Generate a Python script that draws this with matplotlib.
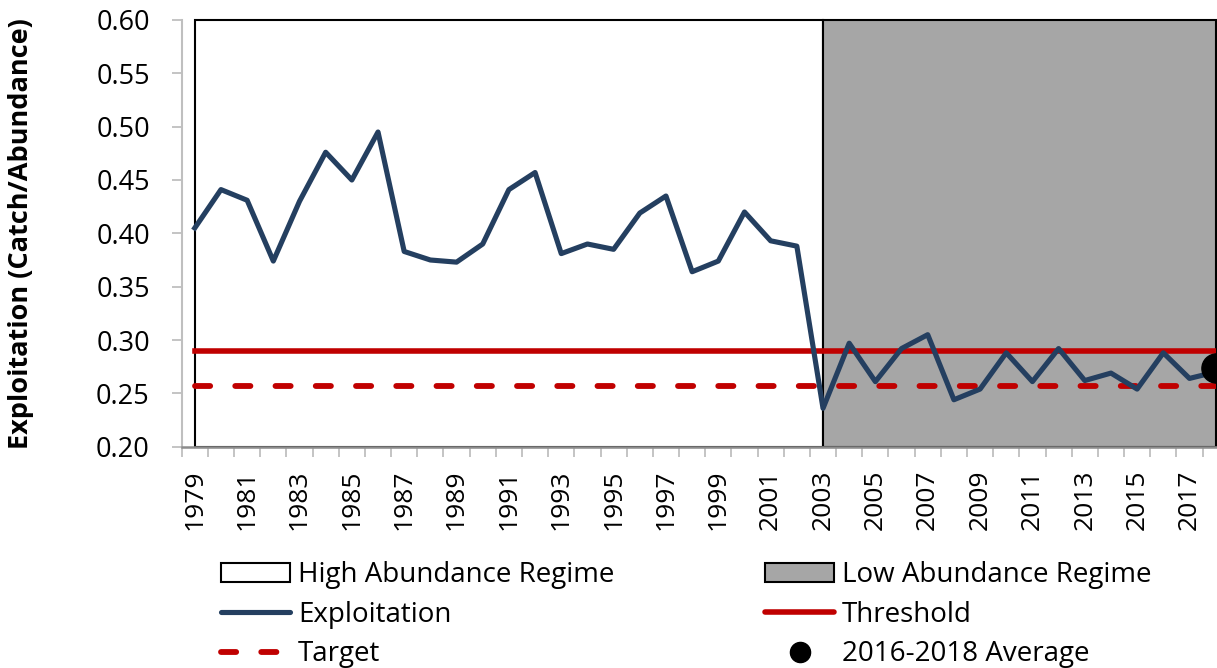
# Exploitation rate chart with abundance regimes

import numpy as np
import matplotlib.pyplot as plt
from matplotlib.patches import Patch
from matplotlib.lines import Line2D

years = list(range(1979, 2019))
exploitation = [0.405, 0.441, 0.431, 0.374, 0.430, 0.476, 0.450, 0.495, 0.383, 0.375,
                0.373, 0.390, 0.441, 0.457, 0.381, 0.390, 0.385, 0.419, 0.435, 0.364,
                0.374, 0.420, 0.393, 0.388, 0.236, 0.297, 0.261, 0.292, 0.305, 0.244,
                0.254, 0.288, 0.261, 0.292, 0.262, 0.269, 0.254, 0.288, 0.264, 0.270]
threshold = 0.290
target = 0.257
avg_year = 2018
avg_value = 0.274
high_regime = (1979, 2003)
low_regime = (2003, 2018)

blue = '#243F60'
red = '#C00000'
grey = '#A6A6A6'
axis_grey = '#BFBFBF'

plt.rcParams['font.family'] = ['Open Sans', 'DejaVu Sans']

fig = plt.figure(figsize=(12.17, 6.68), dpi=100)
ax = fig.add_axes([0.1493, 0.3313, 0.9989 - 0.1493, 0.9701 - 0.3313])

# regimes
ax.axvspan(*high_regime, facecolor='white', edgecolor='black', lw=1.5, clip_on=False, zorder=1)
ax.axvspan(*low_regime, facecolor=grey, edgecolor='black', lw=1.5, clip_on=False, zorder=1)

# reference lines
ax.plot([years[0], years[-1]], [threshold, threshold], color=red, lw=4, zorder=3)
ax.plot([years[0], years[-1]], [target, target], color=red, lw=4.2,
        dashes=(2.6, 4.3), dash_capstyle='round', zorder=3)

# series
ax.plot(years, exploitation, color=blue, lw=3.7, zorder=4)
ax.plot([avg_year], [avg_value], 'o', color='black', ms=21, zorder=5)

ax.set_xlim(1978.5, 2018)
ax.set_ylim(0.20, 0.60)

ax.set_yticks(np.arange(0.20, 0.601, 0.05))
ax.set_yticklabels([f'{v:.2f}' for v in np.arange(0.20, 0.601, 0.05)])
ax.set_xticks(years[::2])
ax.set_xticklabels([str(y) for y in years[::2]], rotation=90)
ax.set_xticks(np.arange(1978.5, 2018, 1.0), minor=True)

ax.tick_params(axis='y', length=7, width=1.3, color=axis_grey, pad=16, labelsize=19.5)
ax.tick_params(axis='x', which='major', length=0, pad=16.5, labelsize=19)
ax.tick_params(axis='x', which='minor', length=7, width=1.3, color=axis_grey)

for s in ['top', 'right']:
    ax.spines[s].set_visible(False)
ax.spines['left'].set_color(axis_grey)
ax.spines['left'].set_linewidth(1.5)
ax.spines['bottom'].set_color('#8C8C8C')
ax.spines['bottom'].set_linewidth(1.8)
ax.spines['bottom'].set_zorder(6)

ax.set_ylabel('Exploitation (Catch/Abundance)', fontsize=19.5, fontweight='bold')
ax.yaxis.set_label_coords(-0.143, 0.5)

# legend, two columns drawn as two legends
left_handles = [Patch(facecolor='white', edgecolor='black', lw=1.5),
                Line2D([], [], color=blue, lw=3.7, solid_capstyle='round'),
                Line2D([], [], color=red, lw=4.2, dashes=(2.6, 4.3), dash_capstyle='round')]
left_labels = ['High Abundance Regime', 'Exploitation', 'Target']
right_handles = [Patch(facecolor=grey, edgecolor='black', lw=1.5),
                 Line2D([], [], color=red, lw=4, solid_capstyle='round'),
                 Line2D([], [], marker='o', ls='none', color='black', ms=14.5)]
right_labels = ['Low Abundance Regime', 'Threshold', '2016-2018 Average']

legend_kw = dict(loc='upper left', frameon=False, fontsize=20, borderpad=0,
                 handlelength=2.5, handleheight=0.7, handletextpad=0.28, labelspacing=0.42,
                 borderaxespad=0)
leg1 = fig.legend(left_handles, left_labels, bbox_to_anchor=(221 / 1217, 1 - 561 / 668), **legend_kw)
leg2 = fig.legend(right_handles, right_labels, bbox_to_anchor=(765 / 1217, 1 - 561 / 668), **legend_kw)

fig.savefig('out.png', dpi=100)
